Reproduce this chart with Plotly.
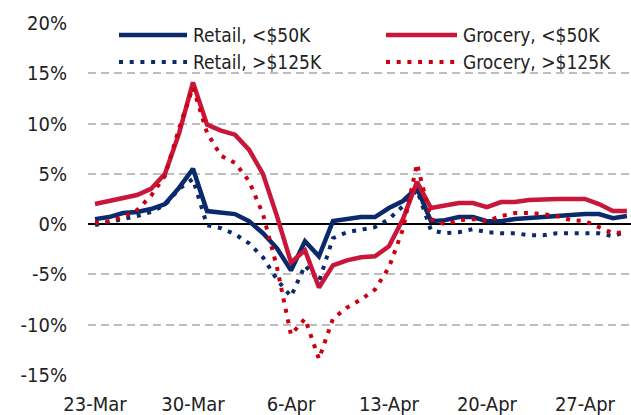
import pandas as pd
import plotly.graph_objects as go

dates = pd.date_range("2020-03-23", "2020-04-30", freq="D")

retail_lt50 = [0.5, 0.7, 1.1, 1.2, 1.5, 2.0, 3.6, 5.5, 1.3, 1.2, 1.0, 0.3, -0.9, -2.4,
               -4.6, -1.7, -3.2, 0.3, 0.5, 0.7, 0.7, 1.6, 2.3, 3.6, 0.3, 0.4, 0.7, 0.7,
               0.3, 0.3, 0.5, 0.6, 0.7, 0.9, 0.9, 1.0, 1.0, 0.6, 0.8]
retail_gt125 = [-0.1, 0.2, 0.4, 0.8, 1.2, 1.9, 3.5, 4.5, -0.1, -0.4, -1.0, -1.9, -3.3, -5.5,
                -7.2, -4.1, -5.7, -1.4, -0.8, -0.6, -0.3, 0.5, 1.8, 3.4, -0.6, -0.9, -0.8, -0.5,
                -0.8, -0.9, -0.9, -1.1, -1.1, -0.9, -0.9, -0.8, -0.9, -1.2, -0.7]
grocery_lt50 = [2.0, 2.3, 2.6, 2.9, 3.5, 5.0, 9.0, 14.1, 9.9, 9.3, 8.9, 7.4, 5.0, 0.8,
                -3.8, -2.6, -6.3, -4.1, -3.6, -3.3, -3.2, -2.2, 0.5, 4.2, 1.6, 1.9, 2.1, 2.1,
                1.7, 2.2, 2.2, 2.4, 2.5, 2.5, 2.5, 2.5, 2.0, 1.3, 1.3]
grocery_gt125 = [0.1, 0.3, 0.7, 1.4, 2.8, 4.8, 9.5, 13.6, 9.1, 6.8, 6.1, 4.3, 1.0, -4.3,
                 -11.0, -9.4, -13.4, -9.4, -8.3, -7.5, -6.5, -4.3, -0.5, 6.0, 0.5, 0.0, 0.4, 0.5,
                 0.3, 0.8, 1.1, 1.1, 1.0, 0.8, 0.4, 0.3, -0.3, -0.9, -0.8]

y_ticks = [-15, -10, -5, 0, 5, 10, 15, 20]
y_ticklabels = [f"{v}%" for v in y_ticks]

NAVY = "#0B2A6C"
RED = "#C8173A"
RED_DOT = "#CC0010"
FONT = "DejaVu Sans Condensed, Liberation Sans, Arial, sans-serif"
TXT = "#222222"

series = [
    ("Retail, <$50K", retail_lt50, NAVY, "solid", 4.5),
    ("Retail, >$125K", retail_gt125, NAVY, "4px,6.7px", 4),
    ("Grocery, <$50K", grocery_lt50, RED, "solid", 4.5),
    ("Grocery, >$125K", grocery_gt125, RED_DOT, "4px,6.7px", 4),
]

fig = go.Figure()
for name, vals, col, dash, w in series:
    fig.add_trace(go.Scatter(x=dates, y=vals, mode="lines", name=name, showlegend=False,
                             line=dict(color=col, width=w, dash=dash)))

# plot area geometry (pixels) for manual legend placement
L, R, T, B = 88, 631, 23, 375
W, H = R - L, B - T
def px(x):
    return (x - L) / W
def py(y):
    return (B - y) / H

legend_items = [
    ("Retail, <$50K", NAVY, "solid", 4.5, 119, 187, 35),
    ("Grocery, <$50K", RED, "solid", 4.5, 386, 457, 35),
    ("Retail, >$125K", NAVY, "4px,6.7px", 4, 119, 187, 62),
    ("Grocery, >$125K", RED_DOT, "4px,6.7px", 4, 386, 457, 62),
]
shapes = []
annotations = []
for name, col, dash, w, x0, x1, yy in legend_items:
    shapes.append(dict(type="line", xref="paper", yref="paper", x0=px(x0), x1=px(x1),
                       y0=py(yy), y1=py(yy), line=dict(color=col, width=w, dash=dash)))
    annotations.append(dict(xref="paper", yref="paper", x=px(x1 + 4), y=py(yy), text=name,
                            showarrow=False, xanchor="left", yanchor="middle",
                            font=dict(family=FONT, size=19, color=TXT)))

fig.update_layout(
    width=631, height=415,
    margin=dict(l=L, r=631 - R, t=T, b=415 - B, autoexpand=False),
    paper_bgcolor="white", plot_bgcolor="white",
    font=dict(family=FONT, size=20, color=TXT),
    shapes=shapes, annotations=annotations,
    showlegend=False,
)
fig.update_xaxes(
    range=["2020-03-22 12:00", "2020-04-30 07:00"],
    tick0="2020-03-23", dtick=7 * 24 * 3600 * 1000, tickformat="%-d-%b",
    showgrid=False, showline=False, zeroline=False, ticks="",
    ticklabelstandoff=15, automargin=False,
)
fig.update_yaxes(
    range=[-15, 20], tickvals=y_ticks, ticktext=y_ticklabels,
    showgrid=True, gridcolor="#BEBEBE", gridwidth=1.5, griddash="8px,5px",
    zeroline=True, zerolinecolor="#000000", zerolinewidth=1.5,
    showline=False, ticks="", ticklabelstandoff=20, automargin=False,
)

fig.write_html("out.html", config={"displayModeBar": False},
               post_script="document.body.style.margin='0';document.body.style.overflow='hidden';")
